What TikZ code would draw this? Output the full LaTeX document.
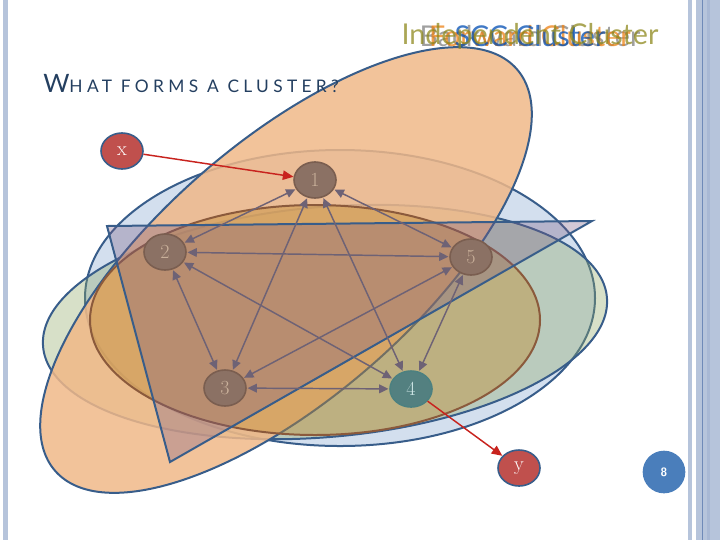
\documentclass[tikz,border=0pt]{standalone}
\usepackage{fontspec}
\newfontfamily\slidefont{Lato}
\usetikzlibrary{arrows.meta,shapes.geometric,positioning}
\definecolor{barblue}{HTML}{B6C4DB}
\definecolor{barline}{HTML}{6F8AB8}
\definecolor{titleblue}{HTML}{243F60}
\definecolor{edgeblue}{HTML}{385D8A}
\definecolor{sccfill}{HTML}{8B7164}
\definecolor{sccline}{HTML}{7A5E50}
\definecolor{scctext}{HTML}{C9B09A}
\definecolor{linkcol}{HTML}{6E6275}
\definecolor{redarrow}{HTML}{C8231E}
\definecolor{endfill}{HTML}{C0504D}
\definecolor{bluefill}{HTML}{4F81BD}
\definecolor{greenfill}{HTML}{8FA866}
\definecolor{orangefill}{HTML}{F0B888}
\definecolor{goldfill}{HTML}{C08A30}
\definecolor{goldline}{HTML}{8B5A3C}
\definecolor{trifill}{HTML}{7A5C84}
\definecolor{pagefill}{HTML}{4A7EBB}
\tikzset{
  vertex/.style={ellipse,minimum width=31.5pt,minimum height=27pt,inner sep=0pt,
    fill=sccfill,draw=sccline,line width=1.2pt,text=scctext,font=\fontsize{15}{15}\selectfont},
  endpoint/.style={vertex,fill=endfill,draw=edgeblue,text=white},
  link/.style={<->,>={Triangle[length=7pt,width=6.5pt]},draw=linkcol,line width=1.1pt,shorten <=0.5pt,shorten >=0.5pt},
  outlink/.style={->,>={Triangle[length=8pt,width=7pt]},draw=redarrow,line width=1.1pt},
  region/.style={draw=edgeblue,line width=1.5pt},
  headlabel/.style={font=\slidefont\fontsize{21.5}{22}\selectfont,opacity=0.75}
}
\begin{document}
\begin{tikzpicture}[x=0.75pt,y=0.75pt,yscale=-1,xscale=1]
\path[use as bounding box] (0,0) rectangle (720,540);

%Shape: Rectangle (side bars)
\fill[barblue] (3,0) rectangle (8,540);
\fill[barblue] (688,0) rectangle (692,540);
\fill[barblue] (696,0) rectangle (720,540);
\fill[barblue!80!barline] (707,0) rectangle (710,540);
\draw[barline,line width=0.8pt] (702.5,0) -- (702.5,540);

%Shape: Ellipse (blue)
\draw[region,fill=bluefill,fill opacity=0.25] (340,298) ellipse (255 and 148);
%Shape: Ellipse (green)
\draw[region,fill=greenfill,fill opacity=0.36,rotate around={-5:(325,322)}] (325,322) ellipse (283 and 115);
%Shape: Ellipse (orange)
\draw[region,fill=orangefill,fill opacity=0.85,rotate around={-41:(286,270)}] (286,270) ellipse (306 and 128);
%Shape: Ellipse (golden)
\draw[draw=goldline,line width=1.5pt,fill=goldfill,fill opacity=0.42] (315,320) ellipse (225 and 115);
%Shape: Triangle
\draw[region,fill=trifill,fill opacity=0.33] (107,226) -- (592,221) -- (170,462) -- cycle;

% Nodes
\node[vertex] (n1) at (315,180) {1};
\node[vertex] (n2) at (165,252) {2};
\node[vertex] (n3) at (225,388) {3};
\node[vertex,fill=teal!35!gray,draw=teal!40!gray,text=white!80!teal] (n4) at (411,389) {4};
\node[vertex] (n5) at (471,257) {5};
\node[endpoint] (x) at (122,151) {x};
\node[endpoint] (y) at (519,468) {y};

%Straight Lines
\foreach \a/\b in {1/2,1/3,1/4,1/5,2/3,2/4,2/5,3/4,3/5,4/5}
  \draw[link] (n\a) -- (n\b);
\draw[outlink] (x) -- (n1);
\draw[outlink] (n4) -- (y);

% Text Node
\node[anchor=base west,text=titleblue,inner sep=0pt] (title) at (43,92)
  {\slidefont\fontsize{19}{19}\selectfont W\fontsize{13}{13}\selectfont\addfontfeature{LetterSpace=25}HAT FORMS A CLUSTER?};
% Text Node
\node[headlabel,text=gray] (lab1) at (530,36) {Backward Cluster};
\node[headlabel,text=orange!70!brown] (lab2) at (530,36) {Forward Cluster};
\node[headlabel,text=teal!60!blue] (lab3) at (530,36) {SCC Cluster};
\node[headlabel,text=olive!80!gray] (lab4) at (530,36) {Independent Cluster};
% Page number
\node[circle,fill=pagefill,minimum size=32pt,inner sep=0pt,text=white,font=\sffamily\bfseries\small] (page) at (664,472) {8};
\end{tikzpicture}
\end{document}
